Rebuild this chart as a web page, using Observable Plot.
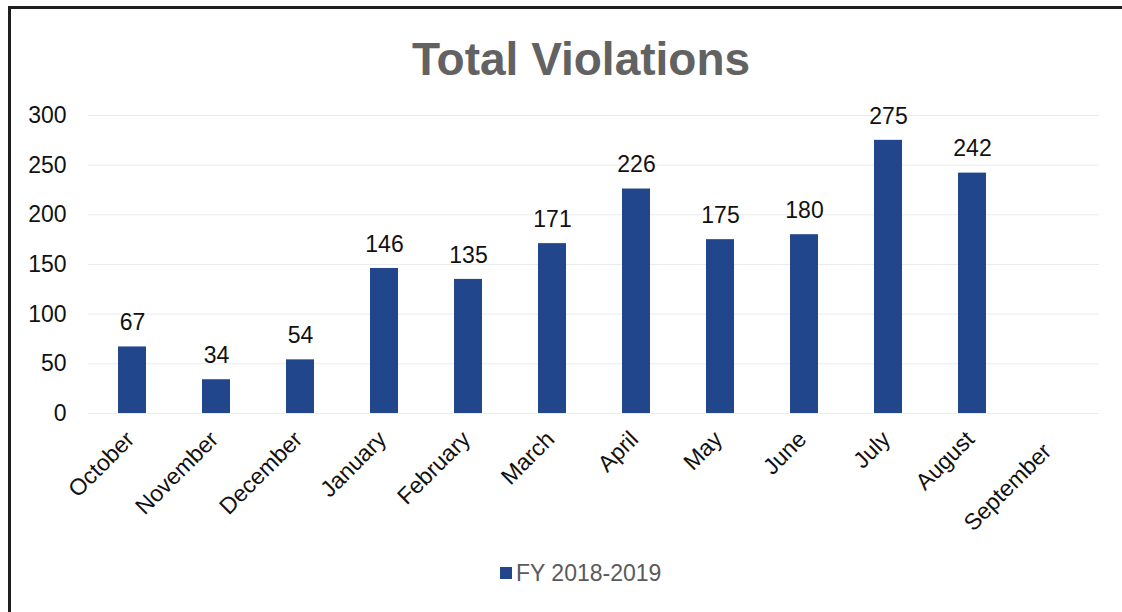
<!DOCTYPE html>
<html>
<head>
<meta charset="utf-8">
<script src="https://cdn.jsdelivr.net/npm/d3@7"></script>
<script src="https://cdn.jsdelivr.net/npm/@observablehq/plot@0.6"></script>
<style>
  html, body { margin: 0; padding: 0; background: #fff; }
  #frame { position: relative; width: 1122px; height: 612px; overflow: hidden; background: #fff;
           font-family: "Liberation Sans", Arial, sans-serif; }
  #border { position: absolute; left: 8px; top: 6px; right: 0; bottom: -5px;
            border-top: 3px solid #1e1e1e; border-left: 3px solid #1e1e1e; }
  #title { position: absolute; left: 0; top: 36px; width: 1162px; text-align: center;
           font-size: 46px; line-height: 46px; font-weight: bold; color: #626262; }
  #chart { position: absolute; left: 0; top: 90px; }
  #legend { position: absolute; left: 500px; top: 561px; font-size: 23px; line-height: 24px; color: #5a5a5a;
            display: flex; align-items: center; }
  #legend .sw { width: 12px; height: 12px; background: #21468b; margin-right: 4px; }
</style>
</head>
<body>
<div id="frame">
  <div id="border"></div>
  <div id="title">Total Violations</div>
  <div id="chart"></div>
  <div id="legend"><span class="sw"></span><span>FY 2018-2019</span></div>
</div>
<script>
const months = ["October","November","December","January","February","March","April","May","June","July","August","September"];
const violations = [67, 34, 54, 146, 135, 171, 226, 175, 180, 275, 242, null];
const yTicks = [0, 50, 100, 150, 200, 250, 300];
const seriesName = "FY 2018-2019";

const data = months.map((m, i) => ({month: m, value: violations[i]})).filter(d => d.value != null);
const font = "'Liberation Sans', Arial, sans-serif";

const chart = Plot.plot({
  width: 1122,
  height: 450,
  marginTop: 25,
  marginBottom: 127,
  marginLeft: 88,
  marginRight: 23,
  style: {fontFamily: font, fontSize: "23px", color: "#111", background: "transparent"},
  x: {domain: months, paddingInner: 0.667, paddingOuter: 0.333, label: null},
  y: {domain: [0, 300], label: null},
  marks: [
    Plot.gridY(yTicks, {stroke: "#ebebeb", strokeOpacity: 1, strokeWidth: 1}),
    Plot.barY(data, {x: "month", y: "value", fill: "#21468b"}),
    Plot.text(data, {x: "month", y: "value", text: d => String(d.value), dy: -24, fill: "#111", fontSize: 23}),
    Plot.axisY(yTicks, {tickSize: 0, tickPadding: 22, label: null, fill: "#111", fontSize: 23}),
    Plot.axisX(months.slice(0, 11), {tickSize: 0, tickPadding: 22, tickRotate: -45, label: null, fill: "#111", fontSize: 23, dx: -2}),
    Plot.axisX(months.slice(11), {tickSize: 0, tickPadding: 22, tickRotate: -45, label: null, fill: "#111", fontSize: 23, dx: -9, dy: 12})
  ]
});
document.getElementById("chart").appendChild(chart);
</script>
</body>
</html>
